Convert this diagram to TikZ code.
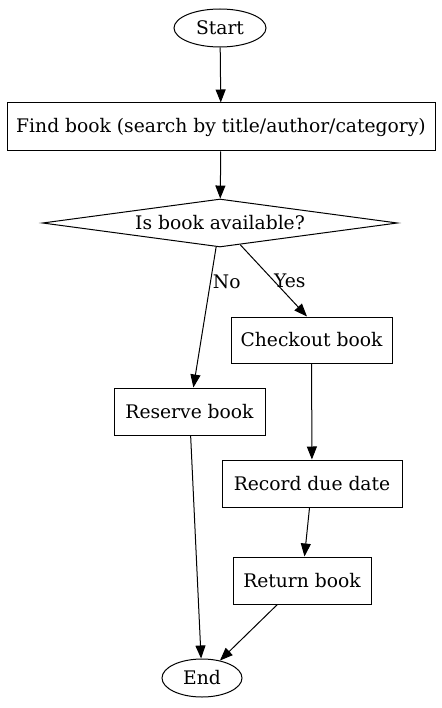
\documentclass[tikz,border=0pt]{standalone}
\usepackage{fontspec}
\setmainfont{DejaVu Serif}
\usetikzlibrary{positioning}
\usetikzlibrary{shapes.geometric}
\usetikzlibrary{arrows.meta}

\begin{document}
\begin{tikzpicture}[x=1pt,y=-1pt,
		font=\fontsize{18.7}{22}\selectfont,
		every path/.style={line width=1pt},
		flow/.style={-{Triangle[length=13pt,width=10pt]}},
		term/.style={draw,ellipse,inner sep=0pt},
		stepbox/.style={draw,rectangle,inner sep=0pt},
		check/.style={draw,diamond,aspect=7.4,inner sep=0pt}]
		\useasboundingbox (0,0) rectangle (441,708);
		\node[term,minimum width=92pt,minimum height=38pt] at (220,28) (start) {Start};
		\node[stepbox,minimum width=428pt,minimum height=48pt] at (221,127) (find) {Find book (search by title/author/category)};
		\node[check,minimum width=355pt,minimum height=48pt] at (220,223) (avail) {Is book available?};
		\node[stepbox,minimum width=161pt,minimum height=46pt] at (311.5,340) (checkout) {Checkout book};
		\node[stepbox,minimum width=151pt,minimum height=47pt] at (189.5,411.5) (reserve) {Reserve book};
		\node[stepbox,minimum width=180pt,minimum height=47pt] at (312,483.5) (record) {Record due date};
		\node[stepbox,minimum width=138pt,minimum height=47pt] at (302,580.5) (return) {Return book};
		\node[term,minimum width=80pt,minimum height=38pt] at (202,678) (end) {End};
		\draw[flow] (start) to (find);
		\draw[flow] (find) to (avail);
		\draw[flow] (avail) to node[pos=0.25,anchor=west,inner sep=2pt] (no) {No} (reserve);
		\draw[flow] (avail) to node[pos=0.5,anchor=west,inner sep=0pt] (yes) {Yes} ([xshift=-4.5pt]checkout.north);
		\draw[flow] (checkout) to (record);
		\draw[flow] (record) to (return);
		\draw[flow] (return) to (end);
		\draw[flow] (reserve) to (end);
	\end{tikzpicture}
\end{document}
